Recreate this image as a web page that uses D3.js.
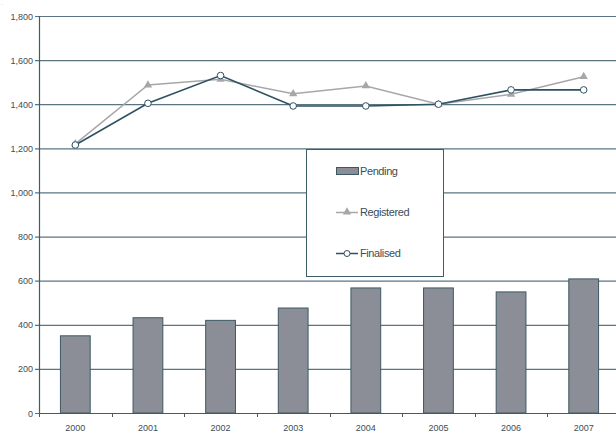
<!DOCTYPE html>
<html><head><meta charset="utf-8">
<script src="https://cdn.jsdelivr.net/npm/d3@7"></script>
<style>body{margin:0;background:#fff}svg{display:block;font-family:"Liberation Sans",Arial,sans-serif}</style>
</head><body><svg id="c" width="616" height="435"></svg>
<script>
const years = ["2000","2001","2002","2003","2004","2005","2006","2007"];
const pending = [350, 432, 420, 476, 567, 567, 549, 608];
const registered = [1220, 1487, 1513, 1447, 1483, 1400, 1445, 1525];
const finalised = [1215, 1404, 1530, 1392, 1392, 1400, 1465, 1465];
const yTicks = [0,200,400,600,800,1000,1200,1400,1600,1800];

const svg = d3.select("#c");
const L = 39, R = 620, T = 16, B = 413;
const x = d3.scaleBand().domain(years).range([L, R]).paddingInner(0).paddingOuter(0);
const y = d3.scaleLinear().domain([0,1800]).range([B, T]);
const axisCol = "#3f5d69", gridCol = "#5a7581", textCol = "#3c4d57";
const fmt = d3.format(",");

svg.append("text").attr("x",1).attr("y",5).attr("font-size",6).attr("fill","#9aa5ab").text(".");

// gridlines
svg.append("g").selectAll("line").data(yTicks).join("line")
  .attr("x1", L-4).attr("x2", 616).attr("y1", d=>y(d)+0.5).attr("y2", d=>y(d)+0.5)
  .attr("stroke", gridCol).attr("stroke-width", 1.2);

// y labels
svg.append("g").selectAll("text").data(yTicks).join("text")
  .attr("x", 33).attr("y", d=>y(d)+3.5).attr("text-anchor","end")
  .attr("font-size", 9).attr("fill", textCol).text(d=>fmt(d));

// bars
const bw = x.bandwidth()*0.41;
svg.append("g").selectAll("rect").data(pending).join("rect")
  .attr("x", (d,i)=>x(years[i]) + (x.bandwidth()-bw)/2)
  .attr("y", d=>y(d)).attr("width", bw).attr("height", d=>B-y(d))
  .attr("fill", "#8b8e97").attr("stroke", "#3e5863").attr("stroke-width", 1);

// axes
svg.append("line").attr("x1", L+0.5).attr("x2", L+0.5).attr("y1", T).attr("y2", B+0.5)
  .attr("stroke", axisCol).attr("stroke-width", 1.2);
svg.append("line").attr("x1", L).attr("x2", 616).attr("y1", B+0.5).attr("y2", B+0.5)
  .attr("stroke", axisCol).attr("stroke-width", 1.2);
const xt = years.map(d=>x(d)).concat([R]);
svg.append("g").selectAll("line").data(xt).join("line")
  .attr("x1", d=>Math.round(d)+0.5).attr("x2", d=>Math.round(d)+0.5).attr("y1", B).attr("y2", B+4)
  .attr("stroke", axisCol);
svg.append("g").selectAll("text").data(years).join("text")
  .attr("x", d=>x(d)+x.bandwidth()/2).attr("y", 431).attr("text-anchor","middle")
  .attr("font-size", 9).attr("fill", textCol).text(d=>d);

const cx = i => x(years[i]) + x.bandwidth()/2;
const line = d3.line().x((d,i)=>cx(i)).y(d=>y(d));

// registered
svg.append("path").attr("d", line(registered)).attr("fill","none")
  .attr("stroke","#a7a7ab").attr("stroke-width",1.5);
const tri = d3.symbol().type(d3.symbolTriangle).size(30);
svg.append("g").selectAll("path").data(registered).join("path")
  .attr("d", tri).attr("transform", (d,i)=>`translate(${cx(i)},${y(d)})`)
  .attr("fill","#a7a7ab");

// finalised
svg.append("path").attr("d", line(finalised)).attr("fill","none")
  .attr("stroke","#2e5262").attr("stroke-width",1.6);
svg.append("g").selectAll("circle").data(finalised).join("circle")
  .attr("cx", (d,i)=>cx(i)).attr("cy", d=>y(d)).attr("r", 3.3)
  .attr("fill","#fff").attr("stroke","#2e5262").attr("stroke-width",1);

// legend
const lg = svg.append("g");
lg.append("rect").attr("x",306.5).attr("y",149.5).attr("width",137).attr("height",127)
  .attr("fill","#fff").attr("stroke",axisCol);
lg.append("rect").attr("x",336.5).attr("y",167.5).attr("width",22).attr("height",7)
  .attr("fill","#8b8e97").attr("stroke","#3e5863");
lg.append("text").attr("x",360).attr("y",175).attr("font-size",11).attr("fill",textCol).attr("letter-spacing",-0.4).text("Pending");
lg.append("line").attr("x1",336).attr("x2",358).attr("y1",212.5).attr("y2",212.5).attr("stroke","#a7a7ab").attr("stroke-width",1.5);
lg.append("path").attr("d",tri).attr("transform","translate(347,212)").attr("fill","#a7a7ab");
lg.append("text").attr("x",360).attr("y",216).attr("font-size",11).attr("fill",textCol).attr("letter-spacing",-0.4).text("Registered");
lg.append("line").attr("x1",336).attr("x2",358).attr("y1",253.5).attr("y2",253.5).attr("stroke","#2e5262").attr("stroke-width",1.5);
lg.append("circle").attr("cx",347).attr("cy",253.5).attr("r",3).attr("fill","#fff").attr("stroke","#2e5262");
lg.append("text").attr("x",360).attr("y",257).attr("font-size",11).attr("fill",textCol).attr("letter-spacing",-0.4).text("Finalised");
</script></body></html>
